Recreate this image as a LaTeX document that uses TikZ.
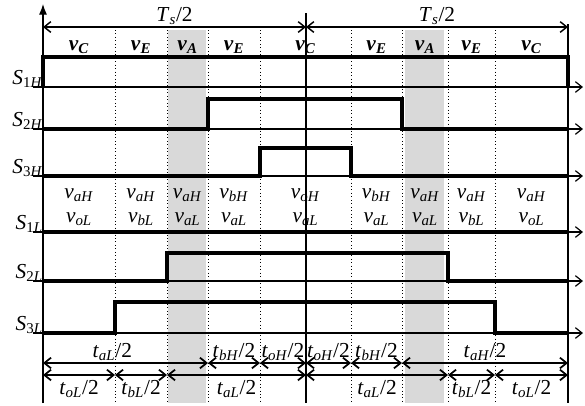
\documentclass[tikz,border=0pt]{standalone}
\usepackage{fontspec}
\setmainfont{Liberation Serif}
\usetikzlibrary{arrows.meta, positioning, calc}

\newcommand{\thalf}[1]{\textit{t}\textsubscript{\textit{#1}}/2}

\begin{document}
\begin{tikzpicture}[x=0.75pt, y=-0.75pt, font=\fontsize{16}{18}\selectfont,
  sig/.style={line width=2.3pt, line join=miter},
  axis/.style={line width=0.8pt, -{Straight Barb[length=5pt, width=8pt, line width=0.9pt]}},
  grid/.style={line width=0.6pt, dotted},
  edge/.style={line width=0.8pt},
  tsarrow/.style={line width=1.1pt, {Straight Barb[length=5pt, width=8pt]}-{Straight Barb[length=5pt, width=8pt]}},
  dim/.style={line width=1.3pt, {Straight Barb[length=5pt, width=8pt]}-{Straight Barb[length=5pt, width=8pt]}},
  swlabel/.style={anchor=base east, inner sep=0pt},
  seg/.style={inner sep=0pt},
  dimlabel/.style={inner sep=1pt}]

% canvas
\useasboundingbox (0,0) rectangle (585,405);

% switching instants
\foreach \n/\px in {0/43, 1/115, 2/167, 3/208, 4/260, 5/306, 6/351, 7/402, 8/448, 9/495, 10/568}
  \coordinate (t\n) at (\px,0);
% levels
\coordinate (ytop) at (0,4);
\coordinate (mtop) at (0,13);
\coordinate (rtop) at (0,24);
\coordinate (top) at (0,27);
\coordinate (gtop) at (0,30);
\coordinate (gbot) at (0,403);
\coordinate (hdr) at (0,47);
\coordinate (vh) at (0,195);
\coordinate (vl) at (0,219);
\coordinate (d1) at (0,363);
\coordinate (d2) at (0,375);

% shaded v_A intervals
\fill[black!15] (168,30) rectangle (206,403);
\fill[black!15] (405,30) rectangle (444,403);

% dotted instants
\foreach \n in {1,2,3,4,6,7,8,9}
  \draw[grid] (t\n |- gtop) -- (t\n |- gbot);

% vertical axes
\draw[edge, -{Latex[length=8pt, width=6pt]}] (t0 |- gbot) -- (t0 |- ytop);
\draw[edge] (t5 |- mtop) -- (t5 |- gbot);
\draw[edge] (t10 |- rtop) -- (t10 |- gbot);

% half periods
\draw[tsarrow] (t0 |- top) -- (t5 |- top) node[midway, above=0pt, dimlabel] (tsl) {\textit{T}\textsubscript{\textit{s}}/2};
\draw[tsarrow] (t5 |- top) -- (t10 |- top) node[midway, above=0pt, dimlabel] (tsr) {\textit{T}\textsubscript{\textit{s}}/2};

% voltage vectors
\foreach \a/\b/\vv [count=\i] in {0/1/C, 1/2/E, 2/3/A, 3/4/E, 4/6/C, 6/7/E, 7/8/A, 8/9/E, 9/10/C}
  \node[seg] (hd\i) at ($(t\a |- hdr)!0.5!(t\b |- hdr)$) {\textbf{\textit{v}\textsubscript{\textit{\vv}}}};

% arm voltages
\foreach \a/\b/\hsub/\lsub [count=\i] in {0/1/aH/oL, 1/2/aH/bL, 2/3/aH/aL, 3/4/bH/aL, 4/6/oH/aL, 6/7/bH/aL, 7/8/aH/aL, 8/9/aH/bL, 9/10/aH/oL}
{
  \node[seg] (vh\i) at ($(t\a |- vh)!0.5!(t\b |- vh)$) {\textit{v}\textsubscript{\textit{\hsub}}};
  \node[seg] (vl\i) at ($(t\a |- vl)!0.5!(t\b |- vl)$) {\textit{v}\textsubscript{\textit{\lsub}}};
}

% switch rows
\foreach \py/\lab [count=\i] in {87/1\textit{H}, 129/2\textit{H}, 176/3\textit{H}, 232/1\textit{L}, 281/2\textit{L}, 333/3\textit{L}}
{
  \draw[axis] (33,\py) -- (583,\py);
  \node[swlabel] (sw\i) at (43,\py-3) {\textit{S}\textsubscript{\lab}};
}

% gate signals
\draw[sig] (43,87) -- (43,57) -- (568,57) -- (568,87);
\draw[sig] (43,129) -- (208,129) -- (208,99) -- (402,99) -- (402,129) -- (568,129);
\draw[sig] (43,176) -- (260,176) -- (260,148) -- (351,148) -- (351,176) -- (568,176);
\draw[sig] (43,232) -- (568,232);
\draw[sig] (43,281) -- (167,281) -- (167,253) -- (448,253) -- (448,281) -- (568,281);
\draw[sig] (43,333) -- (115,333) -- (115,302) -- (495,302) -- (495,333) -- (568,333);

% dwell times, upper arm
\draw[dim] (t0 |- d1) -- (t3 |- d1) node[pos=0.42, above=0pt, dimlabel] (ta1) {\thalf{aL}};
\draw[dim] (t3 |- d1) -- (t4 |- d1) node[midway, above=0pt, dimlabel] (ta2) {\thalf{bH}};
\draw[dim] (t4 |- d1) -- (t5 |- d1) node[midway, above=0pt, dimlabel] (ta3) {\thalf{oH}};
\draw[dim] (t5 |- d1) -- (t6 |- d1) node[midway, above=0pt, dimlabel] (ta4) {\thalf{oH}};
\draw[dim] (t6 |- d1) -- (t7 |- d1) node[midway, above=0pt, dimlabel] (ta5) {\thalf{bH}};
\draw[dim] (t7 |- d1) -- (t10 |- d1) node[midway, above=0pt, dimlabel] (ta6) {\thalf{aH}};

% dwell times, lower arm
\draw[dim] (t0 |- d2) -- (t1 |- d2) node[midway, below=2pt, dimlabel] (tb1) {\thalf{oL}};
\draw[dim] (t1 |- d2) -- (t2 |- d2) node[midway, below=2pt, dimlabel] (tb2) {\thalf{bL}};
\draw[dim] (t2 |- d2) -- (t5 |- d2) node[midway, below=2pt, dimlabel] (tb3) {\thalf{aL}};
\draw[dim] (t5 |- d2) -- (t8 |- d2) node[midway, below=2pt, dimlabel] (tb4) {\thalf{aL}};
\draw[dim] (t8 |- d2) -- (t9 |- d2) node[midway, below=2pt, dimlabel] (tb5) {\thalf{bL}};
\draw[dim] (t9 |- d2) -- (t10 |- d2) node[midway, below=2pt, dimlabel] (tb6) {\thalf{oL}};

\end{tikzpicture}
\end{document}
